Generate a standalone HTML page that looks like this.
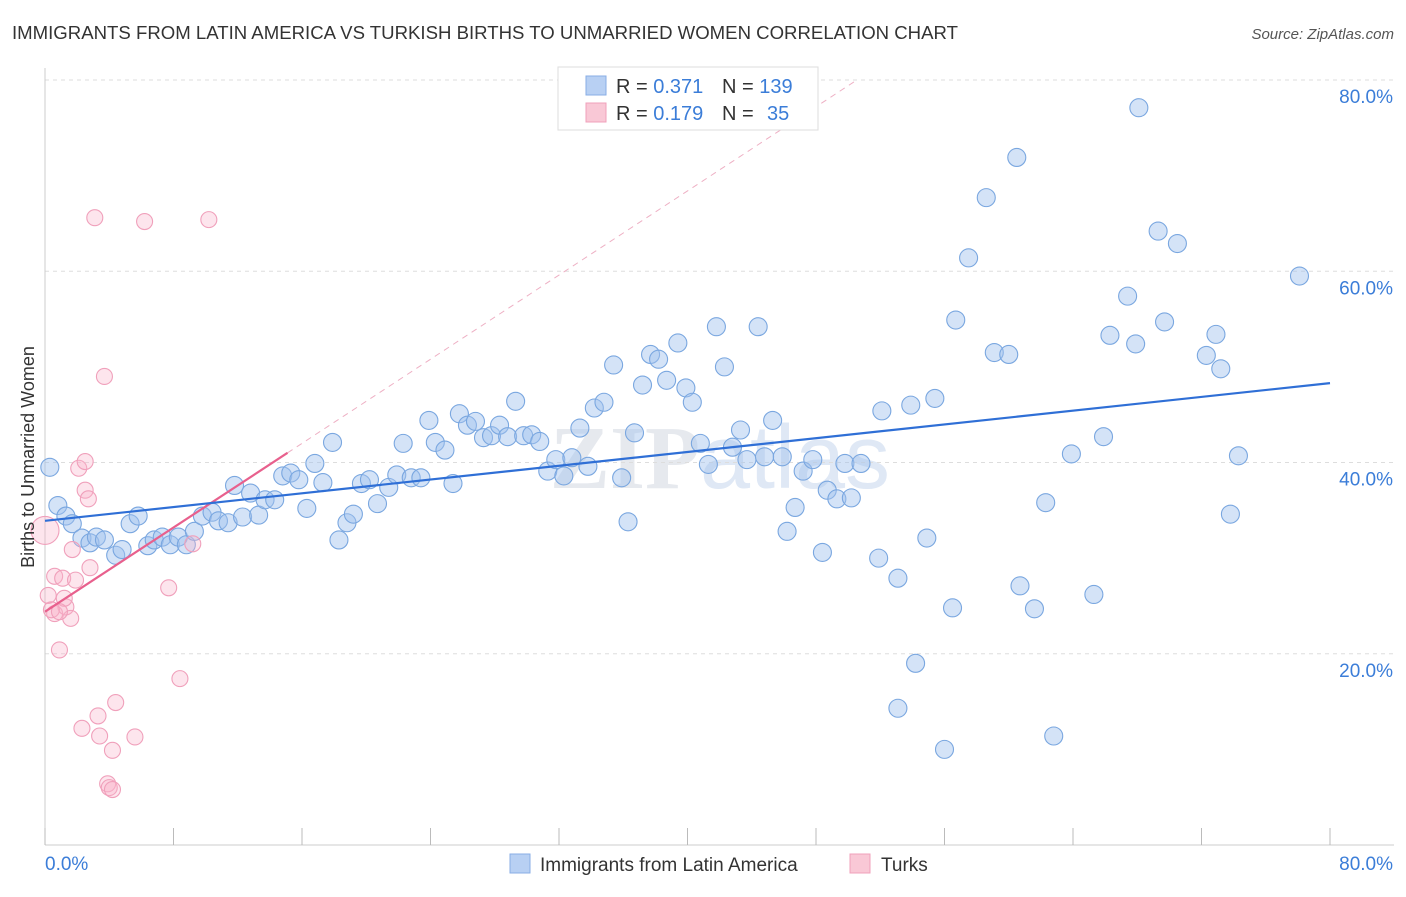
<!DOCTYPE html>
<html><head><meta charset="utf-8"><style>
body{margin:0;background:#fff;font-family:"Liberation Sans",sans-serif;}
</style></head><body>
<svg id="chart" width="1406" height="892" xmlns="http://www.w3.org/2000/svg" font-family="Liberation Sans, sans-serif">
<text x="12" y="39" font-size="18.6" fill="#333">IMMIGRANTS FROM LATIN AMERICA VS TURKISH BIRTHS TO UNMARRIED WOMEN CORRELATION CHART</text>
<text x="1394" y="39" font-size="15" fill="#555" font-style="italic" text-anchor="end">Source: ZipAtlas.com</text>
<text x="720" y="488" font-size="90" fill="#e6e9ee" text-anchor="middle" font-weight="bold" font-family="Liberation Serif, serif">ZIP<tspan font-family="Liberation Sans, sans-serif" font-weight="normal" fill="#dfe8f5">atlas</tspan></text>
<g id="grid"></g>
<g id="axes"></g>
<g id="marks"></g>
<text transform="translate(34,457) rotate(-90)" font-size="18" fill="#333" text-anchor="middle">Births to Unmarried Women</text>
<g>
<rect x="558" y="67" width="260" height="63" fill="#fff" stroke="#ddd"/>
<rect x="586" y="76" width="20" height="19" fill="#b8d0f3" stroke="#88aee6"/>
<rect x="586" y="103" width="20" height="19" fill="#f9c8d6" stroke="#f0a0bb"/>
<text x="616" y="93" font-size="20" fill="#333">R = <tspan fill="#3b7dd8">0.371</tspan></text>
<text x="722" y="93" font-size="20" fill="#333">N = <tspan fill="#3b7dd8">139</tspan></text>
<text x="616" y="120" font-size="20" fill="#333">R = <tspan fill="#3b7dd8">0.179</tspan></text>
<text x="722" y="120" font-size="20" fill="#333">N = <tspan x="767" fill="#3b7dd8">35</tspan></text>
</g>
<g>
<rect x="510" y="854" width="20" height="19" fill="#b8d0f3" stroke="#88aee6"/>
<text x="540" y="871" font-size="19" fill="#333">Immigrants from Latin America</text>
<rect x="850" y="854" width="20" height="19" fill="#f9c8d6" stroke="#f0a0bb"/>
<text x="881" y="871" font-size="19" fill="#333">Turks</text>
</g>
</svg>
<script>
const blueX=[0.3,0.8,1.3,1.7,2.3,2.8,3.2,3.7,4.4,4.8,5.3,5.8,6.4,6.8,7.3,7.8,8.3,8.8,9.3,9.8,10.4,10.8,11.4,11.8,12.3,12.8,13.3,13.7,14.3,14.8,15.3,15.8,16.3,16.8,17.3,17.9,18.3,18.8,19.2,19.7,20.2,20.7,21.4,21.9,22.3,22.8,23.4,23.9,24.3,24.9,25.4,25.8,26.3,26.8,27.3,27.8,28.3,28.8,29.3,29.8,30.3,30.8,31.3,31.8,32.3,32.8,33.3,33.8,34.2,34.8,35.4,35.9,36.3,36.7,37.2,37.7,38.2,38.7,39.4,39.9,40.3,40.8,41.3,41.8,42.3,42.8,43.3,43.7,44.4,44.8,45.3,45.9,46.2,46.7,47.2,47.8,48.4,48.7,49.3,49.8,50.2,50.8,51.9,52.1,53.1,53.1,53.9,54.2,54.9,55.4,56.0,56.5,56.7,57.5,58.6,59.1,60.0,60.5,60.7,61.6,62.3,63.9,65.3,65.9,66.3,67.4,67.9,68.1,69.3,69.7,70.5,72.3,72.9,73.2,73.8,74.3,62.8,78.1];
const blueY=[39.5,35.5,34.4,33.6,32.1,31.6,32.2,31.9,30.3,30.9,33.6,34.4,31.3,31.9,32.2,31.4,32.2,31.4,32.8,34.4,34.8,33.9,33.7,37.6,34.3,36.8,34.5,36.1,36.1,38.6,38.9,38.2,35.2,39.9,37.9,42.1,31.9,33.7,34.6,37.8,38.2,35.7,37.4,38.7,42.0,38.4,38.4,44.4,42.1,41.3,37.8,45.1,43.9,44.3,42.6,42.8,43.9,42.7,46.4,42.8,42.9,42.2,39.1,40.3,38.6,40.5,43.6,39.6,45.7,46.3,50.2,38.4,33.8,43.1,48.1,51.3,50.8,48.6,52.5,47.8,46.3,42.0,39.8,54.2,50.0,41.6,43.4,40.3,54.2,40.6,44.4,40.6,32.8,35.3,39.1,40.3,30.6,37.1,36.2,39.9,36.3,39.9,30.0,45.4,27.9,14.3,46.0,19.0,32.1,46.7,10.0,24.8,54.9,61.4,67.7,51.5,51.3,71.9,27.1,24.7,35.8,40.9,26.2,42.7,53.3,57.4,52.4,77.1,64.2,54.7,62.9,51.2,53.4,49.8,34.6,40.7,11.4,59.5];
const pinkX=[0,0.2,0.6,0.6,0.9,1.1,1.3,1.6,1.7,1.9,2.1,2.3,2.5,2.5,2.7,2.8,3.1,3.3,3.4,3.7,4.2,4.4,3.9,4.0,4.2,5.6,6.2,7.7,8.4,9.2,10.2,0.4,1.2,0.9];
const pinkY=[32.9,26.1,28.1,24.2,20.4,27.9,24.9,23.7,30.9,27.7,39.4,12.2,37.1,40.1,36.2,29.0,65.6,13.5,11.4,49.0,9.9,14.9,6.4,6.0,5.8,11.3,65.2,26.9,17.4,31.5,65.4,24.6,25.8,24.4];
const blueTrend=[33.9,48.3];
const pinkTrend=[24.4,1.1];
const xTicks=[0,8,16,24,32,40,48,56,64,72,80];
const yTicks=[20,40,60,80];
const yTickLabels=["20.0%","40.0%","60.0%","80.0%"];

const NS="http://www.w3.org/2000/svg";
const X=v=>45+v*1285/80;
const Y=v=>845-v*765/80;
function mk(tag,attrs,parent){const e=document.createElementNS(NS,tag);for(const k in attrs)e.setAttribute(k,attrs[k]);parent.appendChild(e);return e;}
const grid=document.getElementById('grid'),axes=document.getElementById('axes'),marks=document.getElementById('marks');
yTicks.forEach((t,i)=>{
  const l=mk('line',{x1:45,x2:1394,y1:Y(t),y2:Y(t),stroke:'#ddd','stroke-dasharray':'4,4'},grid);
  
  
  const tx=mk('text',{x:1393,y:Y(t)+23,'font-size':19,fill:'#3b7dd8','text-anchor':'end'},axes);
  tx.textContent=yTickLabels[i];
  
  
});
const base=mk('line',{x1:45,x2:1394,y1:845,y2:845,stroke:'#ccc'},axes);


const ya=mk('line',{x1:45,x2:45,y1:68,y2:845,stroke:'#ccc'},axes);


xTicks.forEach(t=>{
  const l=mk('line',{x1:X(t),x2:X(t),y1:828,y2:845,stroke:'#bbb'},axes);
  
  
});
const xl0=mk('text',{x:45,y:870,'font-size':19,fill:'#3b7dd8'},axes);xl0.textContent='0.0%';


const xl1=mk('text',{x:1393,y:870,'font-size':19,fill:'#3b7dd8','text-anchor':'end'},axes);xl1.textContent='80.0%';



blueX.forEach((x,i)=>{
  const c=mk('circle',{cx:X(x),cy:Y(blueY[i]),r:9,fill:'rgba(160,192,238,0.45)',stroke:'#7aa7e0','stroke-width':1.1},marks);
  
  
});
pinkX.forEach((x,i)=>{
  const c=mk('circle',{cx:X(x),cy:Y(pinkY[i]),r:i===0?14:8,fill:'rgba(248,180,202,0.35)',stroke:'#f0a0bb','stroke-width':1.1},marks);
  
  
});
const pd=mk('line',{x1:X(15.1),y1:Y(pinkTrend[0]+pinkTrend[1]*15.1),x2:X(50.4),y2:Y(pinkTrend[0]+pinkTrend[1]*50.4),stroke:'#eeb0c4','stroke-dasharray':'6,5','stroke-width':1},marks);


const ps=mk('line',{x1:X(0),y1:Y(pinkTrend[0]),x2:X(15.1),y2:Y(pinkTrend[0]+pinkTrend[1]*15.1),stroke:'#e8608d','stroke-width':2.2},marks);


const bt=mk('line',{x1:X(0),y1:Y(blueTrend[0]),x2:X(80),y2:Y(blueTrend[1]),stroke:'#2f6fd6','stroke-width':2.2},marks);


</script>
</body></html>
